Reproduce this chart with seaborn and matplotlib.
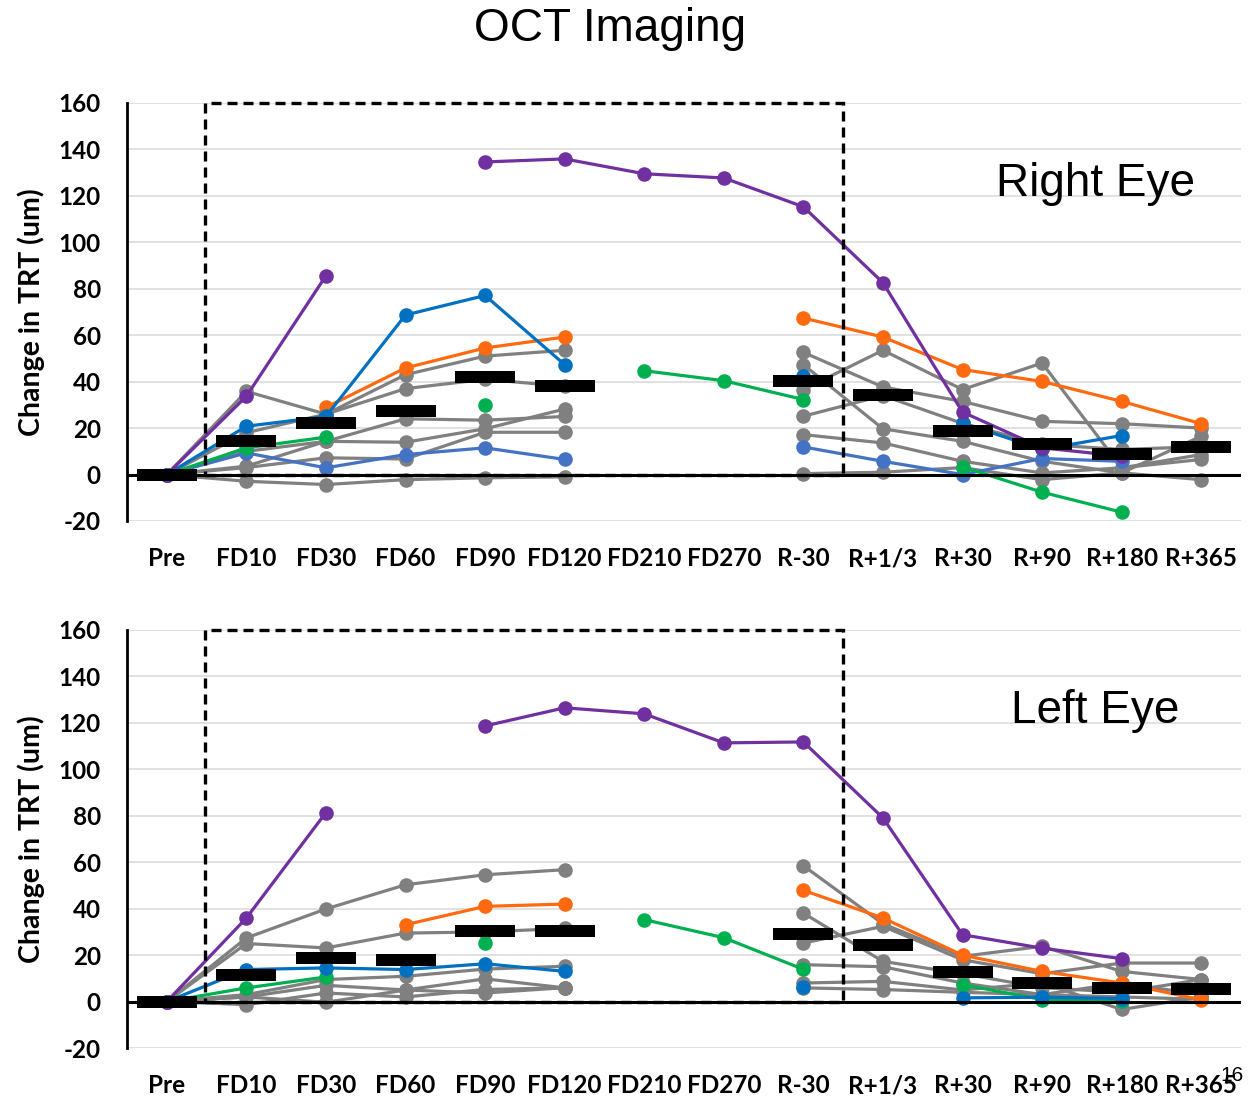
import numpy as np
import pandas as pd
import matplotlib
matplotlib.use("Agg")
import matplotlib.pyplot as plt
from matplotlib.patches import Rectangle
from matplotlib.path import Path
import seaborn as sns

nan = np.nan
timepoints = ["Pre", "FD10", "FD30", "FD60", "FD90", "FD120", "FD210", "FD270",
              "R-30", "R+1/3", "R+30", "R+90", "R+180", "R+365"]

# ---------------- Right eye ----------------
right_purple = [0, 33.7, 85.6, nan, 134.6, 135.9, 129.5, 127.7, 115.3, 82.6, 26.9, 11.5, 7.9, nan]
right_blue = [0, 20.8, 25.0, 68.7, 77.1, 47.3, nan, nan, 42.3, nan, 22.2, 10.8, 16.8, nan]
right_lightblue = [0, 9.3, 2.9, 8.6, 11.5, 6.5, nan, nan, 11.9, 5.7, 0.0, 6.9, 5.7, nan]
right_orange = [0, nan, 28.9, 45.9, 54.5, 59.2, nan, nan, 67.4, 59.2, 45.2, 40.1, 31.5, 21.9]
right_green = [0, 11.5, 16.1, nan, 29.8, nan, 44.7, 40.4, 32.3, nan, 3.3, -7.6, -16.2, nan]
right_gray1 = [0, 35.8, 26.0, 43.0, 51.0, 53.5, nan, nan, 52.6, 37.7, 31.5, 22.9, 21.9, 20.0]
right_gray2 = [0, 18.0, 26.0, 37.0, 41.0, 38.0, nan, nan, 36.6, 53.5, 36.6, 48.0, 2.9, 8.6]
right_gray3 = [0, 3.6, 14.3, 24.0, 23.4, 25.0, nan, nan, 47.3, 19.7, 14.3, 5.7, 0.7, 16.5]
right_gray4 = [0, 10.0, 14.3, 13.9, 19.7, 28.2, nan, nan, 25.1, 34.0, 22.0, 13.0, 10.8, 12.0]
right_gray5 = [0, 3.0, 7.2, 6.7, 18.2, 18.2, nan, nan, 17.2, 13.6, 5.7, 0.7, 2.9, 6.5]
right_gray6 = [0, -2.9, -4.3, -2.2, -1.4, -1.0, nan, nan, 0.4, 1.0, 3.0, -2.2, 0.7, -2.2]
right_mean = [0, 14.3, 22.2, 27.2, 42.0, 38.0, nan, nan, 40.1, 34.1, 18.6, 13.3, 8.9, 11.9]

# ---------------- Left eye ----------------
left_purple = [0, 36.0, 81.4, nan, 118.7, 126.5, 123.9, 111.4, 111.8, 79.1, 28.8, 23.0, 18.5, nan]
left_blue = [0, 13.8, 14.5, 13.8, 16.3, 13.0, nan, nan, 6.2, nan, 1.6, 1.9, 1.3, nan]
left_orange = [0, nan, nan, 33.1, 41.0, 42.0, nan, nan, 47.9, 36.0, 20.0, 13.0, 8.0, 0.8]
left_green = [0, 5.9, 10.6, nan, 25.2, nan, 35.3, 27.5, 13.9, nan, 7.3, 0.9, 0.1, nan]
left_gray1 = [0, 27.4, 39.9, 50.3, 54.6, 56.8, nan, nan, 58.5, 33.5, 19.5, 23.8, 13.0, 9.5]
left_gray2 = [0, 25.0, 23.1, 29.5, 30.0, 31.5, nan, nan, 25.2, 32.4, 18.0, 12.0, 16.6, 16.6]
left_gray3 = [0, 3.0, 9.5, 10.9, 14.0, 15.2, nan, nan, 38.1, 17.3, 12.0, 6.0, 4.0, 9.5]
left_gray4 = [0, 2.0, 7.0, 5.0, 9.8, 5.9, nan, nan, 15.9, 15.0, 8.0, 3.0, 8.0, 3.0]
left_gray5 = [0, -1.3, 3.7, 2.0, 5.2, 5.9, nan, nan, 8.0, 8.7, 5.0, 8.0, -3.4, 2.0]
left_gray6 = [0, 2.0, -0.3, 5.0, 3.7, 6.0, nan, nan, 5.9, 5.2, 4.0, 3.0, 2.0, 1.0]
left_mean = [0, 11.6, 18.8, 18.0, 30.2, 30.2, nan, nan, 29.2, 24.5, 12.6, 8.0, 6.0, 5.4]

GRAY = "#808080"
PURPLE = "#7030A0"
BLUE = "#0070C0"
LBLUE = "#4472C4"
ORANGE = "#FF6A10"
GREEN = "#00B050"

right_series = [(right_gray1, GRAY), (right_gray2, GRAY), (right_gray3, GRAY),
                (right_gray4, GRAY), (right_gray5, GRAY), (right_gray6, GRAY),
                (right_lightblue, LBLUE), (right_green, GREEN), (right_orange, ORANGE),
                (right_blue, BLUE), (right_purple, PURPLE)]
left_series = [(left_gray1, GRAY), (left_gray2, GRAY), (left_gray3, GRAY),
               (left_gray4, GRAY), (left_gray5, GRAY), (left_gray6, GRAY),
               (left_green, GREEN), (left_orange, ORANGE),
               (left_blue, BLUE), (left_purple, PURPLE)]

sns.set_theme(style="white")
plt.rcParams["font.family"] = ["Lato", "DejaVu Sans"]
plt.rcParams["axes.unicode_minus"] = False
plt.rcParams["text.color"] = "black"

fig = plt.figure(figsize=(12.59, 11.01), dpi=100)
ax_r = fig.add_axes([0.1009, 0.5268, 0.8848, 0.3797])
ax_l = fig.add_axes([0.1009, 0.0481, 0.8848, 0.3797])

bar_path = Path([(-1, -0.19), (1, -0.19), (1, 0.19), (-1, 0.19), (-1, -0.19)],
                [Path.MOVETO, Path.LINETO, Path.LINETO, Path.LINETO, Path.CLOSEPOLY])


def segments_df(vals):
    rows = []
    seg = 0
    prev_nan = True
    for i, v in enumerate(vals):
        if np.isnan(v):
            prev_nan = True
            continue
        if prev_nan:
            seg += 1
        prev_nan = False
        rows.append((i, v, seg))
    return pd.DataFrame(rows, columns=["x", "y", "seg"])


def draw_panel(ax, series, means, label):
    for vals, col in series:
        df = segments_df(vals)
        sns.lineplot(data=df, x="x", y="y", units="seg", estimator=None, sort=False,
                     color=col, lw=2.3, marker="o", markersize=10.5,
                     markeredgewidth=0, ax=ax, zorder=3)
    mdf = pd.DataFrame({"x": np.arange(len(timepoints)), "y": means}).dropna()
    sns.scatterplot(data=mdf, x="x", y="y", marker=bar_path, s=1806, color="black",
                    linewidth=0, ax=ax, zorder=6)
    ax.add_patch(Rectangle((0.48, 0), 8.02, 160, fill=False, edgecolor="black",
                           lw=2.4, ls=(0, (3, 1.8)), zorder=7, clip_on=False))
    ax.axhline(0, color="black", lw=2.2, zorder=4)
    ax.set_xlim(-0.5, 13.5)
    ax.set_ylim(-20, 160)
    ax.set_yticks(np.arange(-20, 161, 20))
    ax.set_xticks(np.arange(len(timepoints)))
    ax.set_xticklabels(timepoints)
    ax.grid(axis="y", color="#D9D9D9", lw=1.1)
    ax.grid(axis="x", visible=False)
    ax.set_axisbelow(True)
    for s in ["top", "right", "bottom"]:
        ax.spines[s].set_visible(False)
    ax.spines["left"].set_color("black")
    ax.spines["left"].set_linewidth(2)
    ax.tick_params(axis="both", length=0, labelsize=17.5, colors="black")
    ax.tick_params(axis="x", pad=19)
    ax.tick_params(axis="y", pad=19)
    for t in ax.get_xticklabels() + ax.get_yticklabels():
        t.set_fontweight("bold")
    ax.set_xlabel("")
    ax.set_ylabel("Change in TRT (um)", fontsize=20.5, fontweight="bold", color="black")
    ax.yaxis.set_label_coords(-0.074, 0.5)
    ax.text(0.869, 125, label, transform=ax.get_yaxis_transform(), ha="center",
            va="center", fontsize=33, color="black",
            family=["Liberation Sans", "DejaVu Sans"])


draw_panel(ax_r, right_series, right_mean, "Right Eye")
draw_panel(ax_l, left_series, left_mean, "Left Eye")

fig.text(0.4845, 0.9736, "OCT Imaging", ha="center", va="center", fontsize=33,
         color="black", family=["Liberation Sans", "DejaVu Sans"])
fig.text(0.9785, 0.0236, "16", ha="center", va="center", fontsize=15,
         color="black", family=["Liberation Sans", "DejaVu Sans"])

fig.savefig("out.png", dpi=100)
